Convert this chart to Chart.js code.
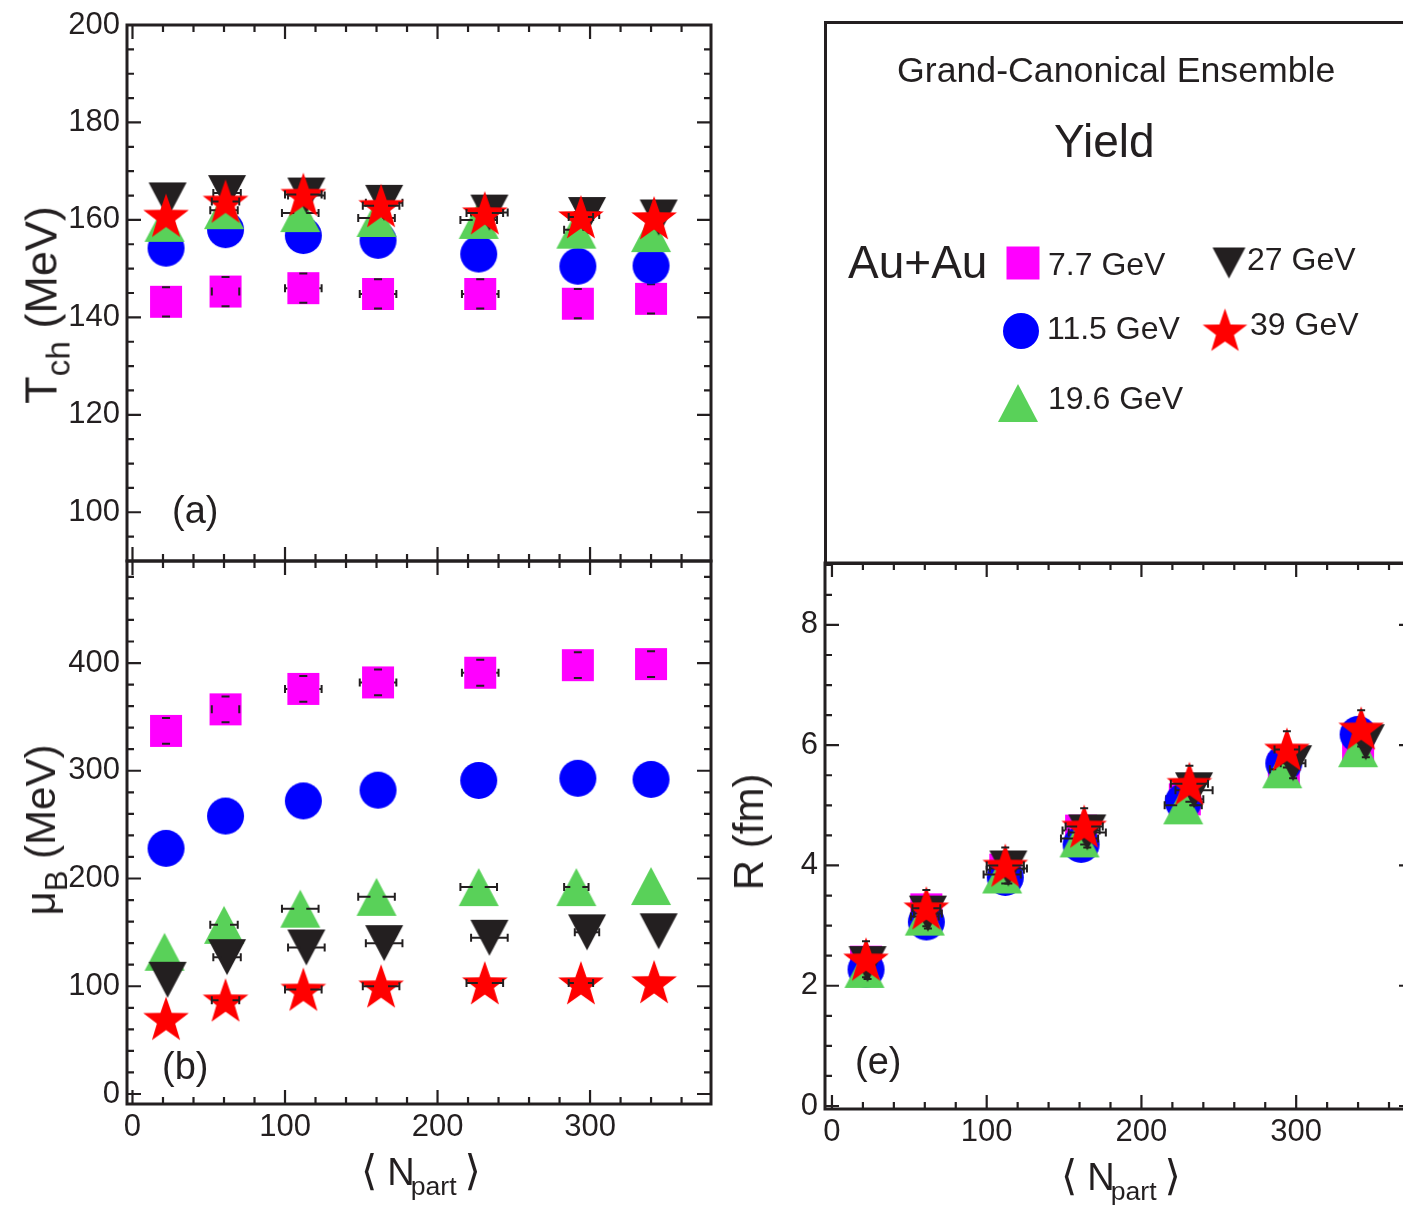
<!DOCTYPE html>
<html>
<head>
<meta charset="utf-8">
<script src="https://cdn.jsdelivr.net/npm/chart.js@4.4.0/dist/chart.umd.min.js"></script>
<style>
    html, body { margin: 0; padding: 0; background: #fff; overflow: hidden; }
    #page {
        position: relative; width: 1420px; height: 1205px; overflow: hidden;
        font-family: 'Liberation Sans', Arial, sans-serif; color: #231f20;
    }
    #page canvas { position: absolute; left: 0; top: 0; }
    .txt { position: absolute; white-space: nowrap; line-height: 1; }
    .sub { position: relative; top: 0.38em; font-size: 0.7em; }
    .ytitle { position: absolute; white-space: nowrap; line-height: 1; transform: translate(-50%, -50%) rotate(-90deg); }
    .ytitle .sub { font-size: 0.74em; }
    .br { font-family: 'DejaVu Sans', sans-serif; font-size: 1.1em; }
    #legendBox {
        position: absolute; left: 824px; top: 21px; width: 640px; height: 544px;
        border: 3px solid #231f20; box-sizing: border-box;
    }
</style>
</head>
<body>
<div id="page">
    <canvas id="chartA" width="1420" height="1205"></canvas>
    <canvas id="chartB" width="1420" height="1205"></canvas>
    <canvas id="chartE" width="1420" height="1205"></canvas>

    <div id="legendBox"></div>
    <canvas id="legendMarks" width="1420" height="600"></canvas>
    <div class="txt" style="left:897px; top:53px; font-size:35.7px;">Grand-Canonical Ensemble</div>
    <div class="txt" style="left:1054px; top:118px; font-size:46px;">Yield</div>
    <div class="txt" style="left:848px; top:239px; font-size:46px;">Au+Au</div>
    <div class="txt" style="left:1048px; top:248px; font-size:32px;">7.7 GeV</div>
    <div class="txt" style="left:1247px; top:243px; font-size:32px;">27 GeV</div>
    <div class="txt" style="left:1047px; top:312px; font-size:32px;">11.5 GeV</div>
    <div class="txt" style="left:1250px; top:308px; font-size:32px;">39 GeV</div>
    <div class="txt" style="left:1048px; top:382px; font-size:32px;">19.6 GeV</div>

    <div class="txt" style="left:172px; top:491px; font-size:38px;">(a)</div>
    <div class="txt" style="left:162px; top:1047px; font-size:38px;">(b)</div>
    <div class="txt" style="left:855px; top:1042px; font-size:38px;">(e)</div>

    <div class="ytitle" style="left:41px; top:305px; font-size:45px;">T<span class="sub">ch</span> (MeV)</div>
    <div class="ytitle" style="left:41px; top:830px; font-size:42px;">μ<span class="sub">B</span> (MeV)</div>
    <div class="ytitle" style="left:749px; top:832px; font-size:42px;">R (fm)</div>
    <div class="txt" style="left:361px; top:1150px; font-size:38px;"><span class="br">⟨</span><span style="margin-left:10px">N</span><span class="sub" style="margin-left:-4px">part</span><span class="br" style="margin-left:8px">⟩</span></div>
    <div class="txt" style="left:1061px; top:1155px; font-size:38px;"><span class="br">⟨</span><span style="margin-left:10px">N</span><span class="sub" style="margin-left:-4px">part</span><span class="br" style="margin-left:8px">⟩</span></div>
</div>

<script>
// ========================================
// DATA
// ========================================

const energyLabels = ['7.7 GeV', '11.5 GeV', '19.6 GeV', '27 GeV', '39 GeV'];

// <Npart> per centrality bin, per energy
const npart77  = [22, 61, 112, 161, 228, 292, 340];
const npart115 = [22, 61, 112, 161, 227, 292, 340];
const npart196 = [21, 60, 110, 160, 227, 291, 340];
const npart27  = [23, 62, 114, 165, 234, 298, 345];
const npart39  = [22, 61, 112, 163, 231, 294, 342];

// (a) chemical freeze-out temperature T_ch (MeV)
const tch77  = [143.2, 145.3, 146.0, 144.8, 144.8, 142.8, 143.8];
const tch115 = [154.2, 158.0, 156.8, 155.8, 153.0, 150.5, 150.6];
const tch196 = [159.4, 162.0, 161.4, 160.4, 160.0, 158.0, 157.3];
const tch27  = [164.0, 165.5, 165.0, 163.5, 161.5, 161.0, 160.5];
const tch39  = [160.9, 163.8, 165.2, 162.9, 161.4, 160.6, 160.4];

// (b) baryon chemical potential mu_B (MeV)
const muB77  = [337, 357, 376, 382, 391, 398, 399];
const muB115 = [228, 258, 272, 282, 291, 293, 292];
const muB196 = [132, 157, 172, 183, 192, 192, 193];
const muB27  = [106, 127, 136, 140, 145, 150, 151];
const muB39  = [70, 87, 97, 100, 103, 103, 104];

// (e) radius R (fm)
const radius77  = [2.40, 3.27, 3.93, 4.58, 5.10, 5.60, 5.92];
const radius115 = [2.27, 3.06, 3.80, 4.35, 5.06, 5.70, 6.18];
const radius196 = [2.28, 3.15, 3.85, 4.45, 5.00, 5.60, 5.95];
const radius27  = [2.36, 3.20, 3.95, 4.55, 5.25, 5.70, 6.05];
const radius39  = [2.44, 3.29, 4.00, 4.65, 5.36, 5.93, 6.28];

// uncertainties: Npart per bin, y per energy
const npartErr  = [4, 9, 12, 12, 12, 8, 5];
const tchErr    = [3.0, 1.5, 2.0, 2.5, 2.0];
const muBErr    = [12, 5, 6, 8, 6];
const radiusErr = [0.2, 0.15, 0.2, 0.25, 0.3];

// axis ticks
const xTicks = [0, 100, 200, 300];
const tchTicks = [100, 120, 140, 160, 180, 200];
const muBTicks = [0, 100, 200, 300, 400];
const radiusTicks = [0, 2, 4, 6, 8];

// ========================================
// STYLE / LAYOUT
// ========================================

const INK = '#231f20';
const FONT = "'Liberation Sans', Arial, sans-serif";
const CANVAS_W = 1420, CANVAS_H = 1205;

const energyColors = ['#ff00ff', '#0000ff', '#59d159', INK, '#ff0000'];
const energyShapes = ['square', 'circle', 'triUp', 'triDown', 'star'];

// ROOT-like filled markers, centred on their bounding box
function makeMarker(shape, color, scale) {
    const s = scale || 1;
    const sizes = { square: [32, 32], circle: [37, 37], triUp: [40, 38], triDown: [38, 36], star: [48, 48] };
    const w = Math.round(sizes[shape][0] * s), h = Math.round(sizes[shape][1] * s);
    const c = document.createElement('canvas');
    c.width = w + 2; c.height = h + 2;
    const g = c.getContext('2d');
    g.fillStyle = color;
    g.beginPath();
    const cx = c.width / 2, cy = c.height / 2;
    if (shape === 'square') {
        g.rect(1, 1, w, h);
    } else if (shape === 'circle') {
        g.ellipse(cx, cy, w / 2, h / 2, 0, 0, Math.PI * 2);
    } else if (shape === 'triUp') {
        g.moveTo(cx, 1); g.lineTo(1 + w, 1 + h); g.lineTo(1, 1 + h);
    } else if (shape === 'triDown') {
        g.moveTo(1, 1); g.lineTo(1 + w, 1); g.lineTo(cx, 1 + h);
    } else if (shape === 'star') {
        const R = w / 2, r = R * 0.4;
        for (let k = 0; k < 10; k++) {
            const a = -Math.PI / 2 + k * Math.PI / 5;
            const rr = k % 2 === 0 ? R : r;
            const px = cx + rr * Math.cos(a), py = cy + 2 + rr * Math.sin(a);
            if (k === 0) g.moveTo(px, py); else g.lineTo(px, py);
        }
    }
    g.closePath();
    g.fill();
    return c;
}

// gap left open around the marker centre by the error bars [horizontal, vertical]
const markerGap = { square: [16, 16], circle: [26, 26], triUp: [6, 19], triDown: [6, 18], star: [7, 20] };

// ========================================
// PLUGINS
// ========================================

// frame with inward major/minor ticks on all four sides
const rootFrame = {
    id: 'rootFrame',
    afterDraw(chart, args, opts) {
        const ctx = chart.ctx;
        const { left, right, top, bottom } = chart.chartArea;
        const xs = chart.scales.x, ys = chart.scales.y;
        ctx.save();
        ctx.strokeStyle = INK;
        ctx.lineWidth = 2.2;
        ctx.beginPath();
        const isMajor = (v, m) => Math.abs(v / m - Math.round(v / m)) < 1e-6;
        for (let v = Math.ceil(xs.min / opts.xMinor) * opts.xMinor; v <= xs.max + 1e-9; v += opts.xMinor) {
            const px = xs.getPixelForValue(v);
            const len = isMajor(v, opts.xMajor) ? 14 : 7;
            ctx.moveTo(px, bottom); ctx.lineTo(px, bottom - len);
            ctx.moveTo(px, top); ctx.lineTo(px, top + len);
        }
        for (let v = Math.ceil(ys.min / opts.yMinor) * opts.yMinor; v <= ys.max + 1e-9; v += opts.yMinor) {
            const py = ys.getPixelForValue(v);
            const len = isMajor(v, opts.yMajor) ? 14 : 7;
            ctx.moveTo(left, py); ctx.lineTo(left + len, py);
            ctx.moveTo(right, py); ctx.lineTo(right - len, py);
        }
        ctx.stroke();
        ctx.lineWidth = 3;
        ctx.strokeRect(left, top, right - left, bottom - top);
        ctx.restore();
    }
};

// error bars drawn right after each series, with a gap inside the marker
const errorBars = {
    id: 'errorBars',
    afterDatasetDraw(chart, args) {
        const ds = chart.data.datasets[args.index];
        if (!ds.xErr) return;
        const ctx = chart.ctx;
        const xs = chart.scales.x, ys = chart.scales.y;
        const [gx, gy] = ds.errGap;
        ctx.save();
        ctx.strokeStyle = INK;
        ctx.lineWidth = 2;
        ctx.beginPath();
        args.meta.data.forEach((pt, i) => {
            const p = ds.data[i];
            const dx = Math.abs(xs.getPixelForValue(p.x + ds.xErr[i]) - pt.x);
            const dy = Math.abs(ys.getPixelForValue(p.y + ds.yErr[i]) - pt.y);
            [-1, 1].forEach(sgn => {
                if (dx > gx * 0.8 && dx > 8) {
                    if (dx > gx) { ctx.moveTo(pt.x + sgn * gx, pt.y); ctx.lineTo(pt.x + sgn * dx, pt.y); }
                    ctx.moveTo(pt.x + sgn * dx, pt.y - 4); ctx.lineTo(pt.x + sgn * dx, pt.y + 4);
                }
                if (dy > gy * 0.8) {
                    if (dy > gy) { ctx.moveTo(pt.x, pt.y + sgn * gy); ctx.lineTo(pt.x, pt.y + sgn * dy); }
                    ctx.moveTo(pt.x - 4, pt.y + sgn * dy); ctx.lineTo(pt.x + 4, pt.y + sgn * dy);
                }
            });
        });
        ctx.stroke();
        ctx.restore();
    }
};

// ========================================
// CHART FACTORY
// ========================================

const npartSets = [npart77, npart115, npart196, npart27, npart39];

function buildDatasets(ySets, yErrs) {
    return ySets.map((vals, k) => ({
        label: energyLabels[k],
        data: npartSets[k].map((n, i) => ({ x: n, y: vals[i] })),
        pointStyle: makeMarker(energyShapes[k], energyColors[k]),
        pointRadius: 18,
        showLine: false,
        order: 5 - k,
        xErr: npartErr,
        yErr: npartErr.map(() => yErrs[k]),
        errGap: markerGap[energyShapes[k]]
    }));
}

function buildPanel(canvasId, box, ySets, yErrs, yTicks, frame, showXLabels) {
    const yw = 100, xh = showXLabels ? 60 : 0;
    const tickFont = { family: FONT, size: 31 };
    return new Chart(document.getElementById(canvasId), {
        type: 'scatter',
        data: { datasets: buildDatasets(ySets, yErrs) },
        options: {
            responsive: false,
            animation: false,
            events: [],
            layout: {
                autoPadding: false,
                padding: {
                    left: box.left - yw,
                    right: CANVAS_W - box.right,
                    top: box.top,
                    bottom: CANVAS_H - box.bottom - xh
                }
            },
            plugins: {
                legend: { display: false },
                tooltip: { enabled: false },
                rootFrame: frame
            },
            scales: {
                x: {
                    type: 'linear', min: box.xMin, max: box.xMax,
                    grid: { display: false, drawTicks: false },
                    border: { display: false },
                    ticks: { display: showXLabels, padding: 5, font: tickFont, color: INK, maxRotation: 0, autoSkip: false },
                    afterBuildTicks: s => { s.ticks = xTicks.map(v => ({ value: v })); },
                    afterFit: s => { s.height = xh; s.paddingLeft = 0; s.paddingRight = 0; }
                },
                y: {
                    type: 'linear', min: box.yMin, max: box.yMax,
                    grid: { display: false, drawTicks: false },
                    border: { display: false },
                    ticks: { padding: 7, font: tickFont, color: INK, autoSkip: false },
                    afterBuildTicks: s => { s.ticks = yTicks.map(v => ({ value: v })); },
                    afterFit: s => { s.width = yw; s.paddingTop = 0; s.paddingBottom = 0; }
                }
            }
        },
        plugins: [errorBars, rootFrame]
    });
}

// panel boxes in page pixels with axis ranges
const boxA = { left: 127, top: 25, right: 711, bottom: 561, xMin: -3.6, xMax: 379.3, yMin: 90, yMax: 200 };
const boxB = { left: 127, top: 561, right: 711, bottom: 1104, xMin: -3.6, xMax: 379.3, yMin: -9.3, yMax: 494.7 };
const boxE = { left: 825, top: 563, right: 1413, bottom: 1109, xMin: -4.5, xMax: 375.5, yMin: -0.05, yMax: 9.03 };

buildPanel('chartA', boxA, [tch77, tch115, tch196, tch27, tch39], tchErr, tchTicks,
    { xMinor: 20, xMajor: 100, yMinor: 5, yMajor: 20 }, false);
buildPanel('chartB', boxB, [muB77, muB115, muB196, muB27, muB39], muBErr, muBTicks,
    { xMinor: 20, xMajor: 100, yMinor: 20, yMajor: 100 }, true);
buildPanel('chartE', boxE, [radius77, radius115, radius196, radius27, radius39], radiusErr, radiusTicks,
    { xMinor: 20, xMajor: 100, yMinor: 0.5, yMajor: 2 }, true);

// ========================================
// LEGEND SYMBOLS
// ========================================

function drawLegendMarks() {
    const g = document.getElementById('legendMarks').getContext('2d');
    const spots = [
        { k: 0, x: 1023, y: 263, s: 1.03 },
        { k: 1, x: 1021, y: 331, s: 0.97 },
        { k: 2, x: 1018, y: 403, s: 1.0 },
        { k: 3, x: 1229, y: 263, s: 0.86 },
        { k: 4, x: 1225, y: 330, s: 0.98 }
    ];
    spots.forEach(p => {
        const m = makeMarker(energyShapes[p.k], energyColors[p.k], p.s);
        g.drawImage(m, p.x - m.width / 2, p.y - m.height / 2);
    });
}

drawLegendMarks();
</script>
</body>
</html>
